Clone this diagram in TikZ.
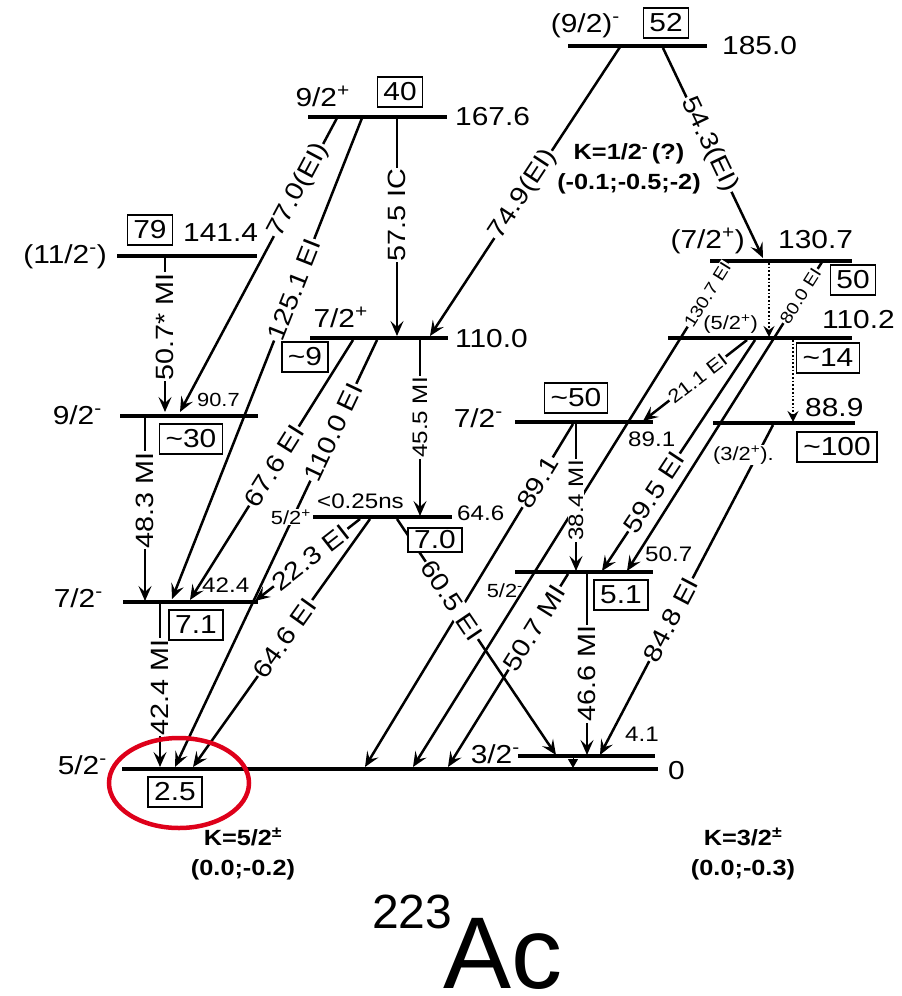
\documentclass[tikz,border=0pt]{standalone}
\usepackage{fontspec}
\setmainfont{Liberation Sans}[FakeStretch=1.15]
\newfontfamily\bigsans{Liberation Sans}
\usetikzlibrary{arrows.meta, shapes.geometric}
\definecolor{markred}{RGB}{222,0,26}
\newcommand\szMain{\fontsize{26}{30}\selectfont}
\newcommand\szLab{\fontsize{25}{28}\selectfont}
\newcommand\szMid{\fontsize{21}{24}\selectfont}
\newcommand\szSm{\fontsize{19}{22}\selectfont}
\newcommand\szTiny{\fontsize{17}{20}\selectfont}
\newcommand\szK{\fontsize{22}{30}\selectfont}

\begin{document}
\begin{tikzpicture}[
        x=1pt, y=-1pt,
        >={Stealth[length=15pt, width=13pt, inset=6pt]},
        lvl/.style={line width=4.3pt},
        gam/.style={->, line width=2.5pt},
        dotgam/.style={-{Stealth[length=11pt, width=11pt, inset=4pt]}, line width=1.7pt, dotted},
        tlab/.style={fill=white, inner sep=1pt, sloped, font=\szLab},
        vlab/.style={fill=white, inner sep=1pt, rotate=90, font=\szLab},
        energy/.style={anchor=base west, inner sep=0pt, font=\szMain},
        spin/.style={anchor=base east, inner sep=0pt, font=\szMain},
        ibox/.style={draw, line width=1.7pt, fill=white, inner xsep=6pt, inner ysep=6pt, font=\szMain},
        klab/.style={align=center, inner sep=0pt, font=\szK\bfseries}
    ]
        \useasboundingbox (0,0) rectangle (902,996);

        % ================= NIVELES =================
        \foreach \xa/\xb/\yy in {568/707/46, 308/447/117, 117/257/256, 710/852/261,
                                 668/852/338, 310/448/338, 120/258/416, 515/653/422,
                                 713/855/423, 313/452/517, 515/653/572, 123/258/602,
                                 518/655/756, 122/658/769}
            \draw[lvl] (\xa,\yy) -- (\xb,\yy);

        % ================= PUNTOS DE LAS TRANSICIONES =================
        \coordinate (g749a) at (620,47);   \coordinate (g749b) at (430,336);
        \coordinate (g543a) at (663,48);   \coordinate (g543b) at (763,258);
        \coordinate (g770a) at (337,118);  \coordinate (g770b) at (180,412);
        \coordinate (g1251a) at (362,118); \coordinate (g1251b) at (172,599);
        \coordinate (g575a) at (397,118);  \coordinate (g575b) at (397,336);
        \coordinate (g507a) at (165,257);  \coordinate (g507b) at (165,412);
        \coordinate (g1307a) at (728,262); \coordinate (g1307b) at (413,767);
        \coordinate (g800a) at (822,262);  \coordinate (g800b) at (627,571);
        \coordinate (g205a) at (769,263);  \coordinate (g205b) at (769,337);
        \coordinate (g211a) at (747,340);  \coordinate (g211b) at (643,421);
        \coordinate (g595a) at (755,340);  \coordinate (g595b) at (602,571);
        \coordinate (g213a) at (793,340);  \coordinate (g213b) at (793,422);
        \coordinate (g676a) at (353,340);  \coordinate (g676b) at (190,600);
        \coordinate (g1100a) at (377,340); \coordinate (g1100b) at (175,767);
        \coordinate (g455a) at (420,340);  \coordinate (g455b) at (420,516);
        \coordinate (g483a) at (145,418);  \coordinate (g483b) at (145,601);
        \coordinate (g891a) at (573,424);  \coordinate (g891b) at (365,767);
        \coordinate (g384a) at (576,424);  \coordinate (g384b) at (576,571);
        \coordinate (g848a) at (773,425);  \coordinate (g848b) at (600,755);
        \coordinate (g223a) at (360,519);  \coordinate (g223b) at (255,601);
        \coordinate (g646a) at (370,519);  \coordinate (g646b) at (193,767);
        \coordinate (g605a) at (397,519);  \coordinate (g605b) at (556,755);
        \coordinate (g507c) at (568,574);  \coordinate (g507d) at (448,767);
        \coordinate (g466a) at (587,574);  \coordinate (g466b) at (587,755);
        \coordinate (g424a) at (160,604);  \coordinate (g424b) at (160,767);
        \coordinate (g41a) at (573,757);   \coordinate (g41b) at (573,768);

        % ================= TRANSICIONES =================
        \draw[gam] (g749a) -- node[tlab, pos=.51] (t749) {74.9(EI)} (g749b);
        \draw[gam] (g543a) -- node[tlab, pos=.46] (t543) {54.3(EI)} (g543b);
        \draw[gam] (g770a) -- node[tlab, pos=.245] (t770) {77.0(EI)} (g770b);
        \draw[gam] (g1251a) -- node[tlab, pos=.357] (t1251) {125.1 EI} (g1251b);
        \draw[gam] (g575a) -- node[vlab, pos=.445] (t575) {57.5 IC} (g575b);
        \draw[gam] (g507a) -- node[vlab, pos=.45] (t507a) {50.7* MI} (g507b);
        \draw[gam] (g1307a) -- node[tlab, font=\szTiny, pos=.065] (t1307) {130.7 EI} (g1307b);
        \draw[gam] (g800a) -- node[tlab, font=\szTiny, pos=.11] (t800) {80.0 EI} (g800b);
        \draw[dotgam] (g205a) -- (g205b);
        \draw[gam] (g211a) -- node[tlab, font=\szSm, pos=.475] (t211) {21.1 EI} (g211b);
        \draw[gam] (g595a) -- node[tlab, pos=.66] (t595) {59.5 EI} (g595b);
        \draw[dotgam] (g213a) -- (g213b);
        \draw[gam] (g676a) -- node[tlab, pos=.485] (t676) {67.6 EI} (g676b);
        \draw[gam] (g1100a) -- node[tlab, pos=.216] (t1100) {110.0 EI} (g1100b);
        \draw[gam] (g455a) -- node[vlab, font=\szMid, pos=.44] (t455) {45.5 MI} (g455b);
        \draw[gam] (g483a) -- node[vlab, pos=.45] (t483) {48.3 MI} (g483b);
        \draw[gam] (g891a) -- node[tlab, pos=.17] (t891) {89.1} (g891b);
        \draw[gam] (g384a) -- node[vlab, font=\szMid, pos=.52] (t384) {38.4 MI} (g384b);
        \draw[gam] (g848a) -- node[tlab, pos=.59] (t848) {84.8 EI} (g848b);
        \draw[gam] (g223a) -- node[tlab, pos=.47] (t223) {22.3 EI} (g223b);
        \draw[gam] (g646a) -- node[tlab, pos=.48] (t646) {64.6 EI} (g646b);
        \draw[gam] (g605a) -- node[tlab, pos=.345] (t605) {60.5 EI} (g605b);
        \draw[gam] (g507c) -- node[tlab, pos=.28] (t507b) {50.7 MI} (g507d);
        \draw[gam] (g466a) -- node[vlab, pos=.55] (t466) {46.6 MI} (g466b);
        \draw[gam] (g424a) -- node[vlab, pos=.51] (t424) {42.4 MI} (g424b);
        \draw[-{Triangle[length=9pt, width=10pt]}, line width=1pt] (g41a) -- (g41b);

        % ================= ENERGIAS =================
        \node[energy] (e1850) at (722,54) {185.0};
        \node[energy] (e1676) at (455,125) {167.6};
        \node[energy] (e1414) at (183,241) {141.4};
        \node[energy] (e1307) at (778,248) {130.7};
        \node[energy] (e1102) at (822,328) {110.2};
        \node[energy] (e1100) at (455,347) {110.0};
        \node[energy, font=\szSm] (e907) at (197,406) {90.7};
        \node[energy, font=\szMid] (e891) at (628,446) {89.1};
        \node[energy] (e889) at (805,416) {88.9};
        \node[energy, font=\szMid] (e646) at (457,520) {64.6};
        \node[energy, font=\szMid] (e507) at (645,561) {50.7};
        \node[energy, font=\szMid] (e424) at (202,592) {42.4};
        \node[energy, font=\szMid] (e41) at (625,741) {4.1};
        \node[energy] (e0) at (668,779) {0};

        % ================= ESPINES =================
        \node[spin] (s1850) at (620,32) {(9/2)\textsuperscript{-}};
        \node[spin] (s1676) at (350,106) {9/2\textsuperscript{+}};
        \node[spin] (s1414) at (107,263) {(11/2\textsuperscript{-})};
        \node[spin] (s1307) at (745,248) {(7/2\textsuperscript{+})};
        \node[spin, font=\szSm] (s1102) at (758,329) {(5/2\textsuperscript{+})};
        \node[spin] (s1100) at (368,327) {7/2\textsuperscript{+}};
        \node[spin] (s907) at (102,424) {9/2\textsuperscript{-}};
        \node[spin] (s891) at (503,427) {7/2\textsuperscript{-}};
        \node[spin, anchor=base west, font=\szSm, fill=white, inner sep=1pt] (s889) at (712,460) {(3/2\textsuperscript{+}).};
        \node[spin, font=\szSm, fill=white, inner sep=1pt] (s646) at (312,524) {5/2\textsuperscript{+}};
        \node[energy, font=\szMid] (tau646) at (317,508) {<0.25ns};
        \node[spin, font=\szSm] (s507) at (523,597) {5/2\textsuperscript{-}};
        \node[spin] (s424) at (103,607) {7/2\textsuperscript{-}};
        \node[spin] (s41) at (520,763) {3/2\textsuperscript{-}};
        \node[spin] (s0) at (107,774) {5/2\textsuperscript{-}};

        % ================= INTENSIDADES =================
        \node[ibox] (b1850) at (666,23) {52};
        \node[ibox] (b1676) at (400,92) {40};
        \node[ibox] (b1414) at (150,230) {79};
        \node[ibox] (b1307) at (853,280) {50};
        \node[ibox] (b1102) at (828,358) {\textasciitilde 14};
        \node[ibox] (b1100) at (305,357) {\textasciitilde 9};
        \node[ibox] (b907) at (191,439) {\textasciitilde 30};
        \node[ibox] (b891) at (576,398) {\textasciitilde 50};
        \node[ibox] (b889) at (837,447) {\textasciitilde 100};
        \node[ibox, inner ysep=3pt] (b646) at (435,540) {7.0};
        \node[ibox] (b507) at (621,595) {5.1};
        \node[ibox] (b424) at (196,625) {7.1};
        \node[ibox] (b0) at (175,792) {2.5};

        % ================= BANDAS K =================
        \node[klab] (k12) at (629,169) {K=1/2\textsuperscript{-}\,(?)\\(-0.1;-0.5;-2)};
        \node[klab] (k52) at (243,854) {K=5/2\textsuperscript{±}\\(0.0;-0.2)};
        \node[klab] (k32) at (743,854) {K=3/2\textsuperscript{±}\\(0.0;-0.3)};

        % ================= NUCLEO =================
        \node[anchor=base west, inner sep=0pt, font=\bigsans\fontsize{48}{50}\selectfont] (mass) at (372,928) {223};
        \node[anchor=base west, inner sep=0pt, font=\bigsans\fontsize{102}{106}\selectfont] (elem) at (443,988) {Ac};

        % marca roja
        \node[ellipse, draw=markred, line width=4.5pt, minimum width=140pt, minimum height=90pt] (mark) at (179,783) {};
    \end{tikzpicture}
\end{document}
